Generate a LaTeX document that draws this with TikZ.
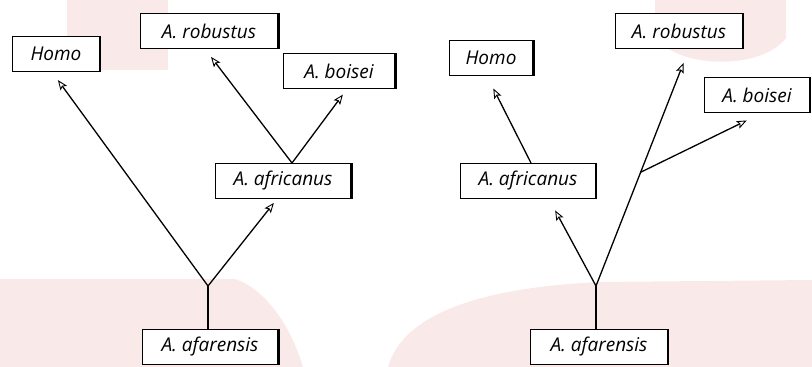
\documentclass[tikz,border=0pt]{standalone}
\usepackage{fontspec}
\setmainfont{Open Sans}
\usetikzlibrary{arrows.meta,calc}
\definecolor{wm}{RGB}{250,233,233}
\begin{document}
\begin{tikzpicture}[x=1pt,y=-1pt,
  box/.style={draw, fill=white, line width=1pt, minimum height=35pt, inner xsep=0pt,
              font=\fontsize{19}{22}\selectfont\itshape},
  edge/.style={line width=1.3pt, -{Stealth[open,length=10pt,width=8pt,inset=2pt,line width=0.9pt]}},
  stem/.style={line width=1.3pt}]
\useasboundingbox (0,0) rectangle (812,367);

% faint background marks
\fill[wm] (67,0) rectangle (168,70);
\fill[wm] (655,0) -- (655,35) .. controls (672,68) and (760,72) .. (786,38) -- (786,0) -- cycle;
\fill[wm] (0,279) -- (235,279) .. controls (268,290) and (292,330) .. (303,367) -- (0,367) -- cycle;
\fill[wm] (388,367) .. controls (402,318) and (470,288) .. (600,282) -- (812,280) -- (812,367) -- cycle;

% left tree
\node[box, minimum width=87pt]  (homoL) at (56,54)  {Homo};
\node[box, minimum width=138pt] (robL)  at (209,31) {A. robustus};
\node[box, minimum width=112pt] (boiL)  at (339,71) {A. boisei};
\node[box, minimum width=136pt] (afrL)  at (283,181) {A. africanus};
\node[box, minimum width=136pt] (afaL)  at (210,347) {A. afarensis};

\coordinate (jL) at (208,286);
\draw[stem] (jL |- afaL.north) -- (jL);
\draw[edge, shorten >=10pt] (jL) -- ([xshift=-4pt]homoL.south);
\draw[edge, shorten >=5pt]  (jL) -- ([xshift=-6pt]afrL.south);
\draw[edge, shorten >=10pt] ([xshift=9pt]afrL.north) -- ([xshift=-4pt]robL.south);
\draw[edge, shorten >=7pt]  ([xshift=9pt]afrL.north) -- ([xshift=8pt]boiL.south);

% right tree
\node[box, minimum width=84pt]  (homoR) at (491,58)  {Homo};
\node[box, minimum width=127pt] (robR)  at (679,31)  {A. robustus};
\node[box, minimum width=105pt] (boiR)  at (757,95)  {A. boisei};
\node[box, minimum width=135pt] (afrR)  at (528,181) {A. africanus};
\node[box, minimum width=137pt] (afaR)  at (599,347) {A. afarensis};

\coordinate (jR) at (596,286);
\coordinate (tR) at ([xshift=10pt]robR.south);
\coordinate (bR) at ($(jR)!0.48!(tR)$);
\draw[stem] (jR |- afaR.north) -- (jR);
\draw[edge, shorten >=13pt] (jR) -- ([xshift=21pt]afrR.south);
\draw[edge, shorten >=15pt] (jR) -- (tR);
\draw[edge, shorten >=17pt] (bR) -- ([xshift=5pt]boiR.south);
\draw[edge, shorten >=14pt] ([xshift=3pt]afrR.north) -- ([xshift=-4pt]homoR.south);

% heavier right-hand edge of each box
\foreach \n in {homoL,robL,boiL,afrL,afaL,homoR,robR,boiR,afrR,afaR}
  \draw[line width=2.4pt] (\n.north east) -- (\n.south east);
\end{tikzpicture}
\end{document}
